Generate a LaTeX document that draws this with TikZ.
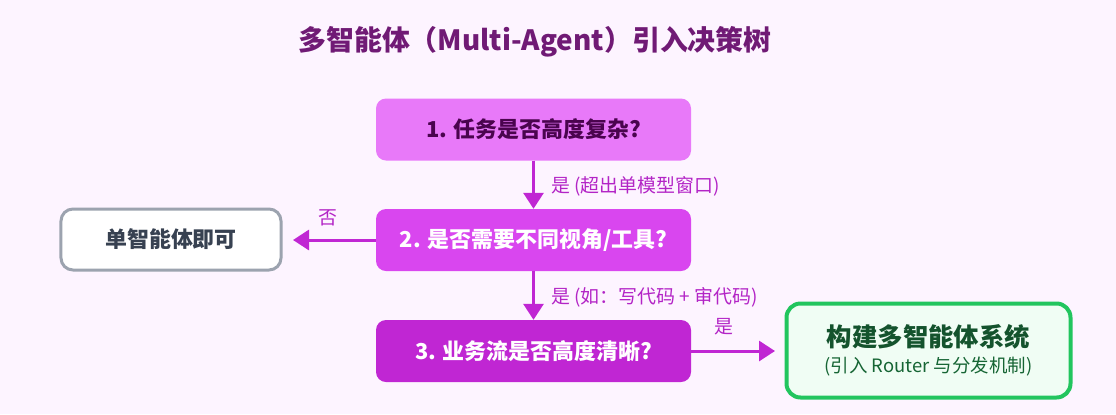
\documentclass[tikz,border=0pt]{standalone}
\usepackage{fontspec}
\setmainfont{Noto Sans CJK SC}
\usetikzlibrary{arrows.meta}
\definecolor{bg}{HTML}{FDF4FF}
\definecolor{titlec}{HTML}{701A75}
\definecolor{q1fill}{HTML}{E879F9}
\definecolor{q2fill}{HTML}{D946EF}
\definecolor{q3fill}{HTML}{C026D3}
\definecolor{q1text}{HTML}{4A044E}
\definecolor{arrowc}{HTML}{C026D3}
\definecolor{labelc}{HTML}{B324C6}
\definecolor{grayb}{HTML}{9CA3AF}
\definecolor{grayt}{HTML}{374151}
\definecolor{greenb}{HTML}{22C55E}
\definecolor{greenf}{HTML}{F0FDF4}
\definecolor{greent}{HTML}{14532D}
\definecolor{greens}{HTML}{166534}
\tikzset{
  qbox/.style={rounded corners=10bp, minimum width=315bp, minimum height=62bp, inner sep=0pt, font=\fontsize{22}{26}\selectfont\bfseries},
  arr/.style={draw=arrowc, line width=3bp, -{Triangle[length=16bp,width=20bp]}},
  lab/.style={text=labelc, font=\fontsize{19}{22}\selectfont, inner sep=0pt}
}
\begin{document}
\begin{tikzpicture}[x=1bp,y=-1bp]
\fill[bg] (0,0) rectangle (1116,414);
\useasboundingbox (0,0) rectangle (1116,414);
\node[text=titlec, font=\fontsize{28}{32}\selectfont\bfseries] (title) at (535,42) {多智能体（Multi-Agent）引入决策树};
\node[qbox, fill=q1fill, text=q1text] (q1) at (533.5,129.5) {1. 任务是否高度复杂?};
\node[qbox, fill=q2fill, text=white] (q2) at (533.5,240) {2. 是否需要不同视角/工具?};
\node[qbox, fill=q3fill, text=white] (q3) at (533.5,351) {3. 业务流是否高度清晰?};
\node[draw=grayb, line width=3bp, fill=white, rounded corners=12bp, minimum width=220bp, minimum height=61bp, inner sep=0pt, text=grayt, font=\fontsize{22}{26}\selectfont\bfseries] (single) at (171,239.5) {单智能体即可};
\node[draw=greenb, line width=4bp, fill=greenf, rounded corners=14bp, minimum width=284bp, minimum height=94bp, inner sep=0pt, align=center] (multi) at (928.5,350.5) {{\color{greent}\fontsize{25.5}{30}\selectfont\bfseries 构建多智能体系统}\\[7bp]{\color{greens}\fontsize{18.5}{22}\selectfont (引入 Router 与分发机制)}};
\coordinate (lt) at (293,240);
\coordinate (rt) at (775,351);
\draw[arr] (q1.south) -- (q2.north);
\draw[arr] (q2.south) -- (q3.north);
\draw[arr] (q2.west) -- (lt);
\draw[arr] (q3.east) -- (rt);
\node[lab, anchor=west] (l1) at (551,186) {是 (超出单模型窗口)};
\node[lab, anchor=west] (l2) at (551,297) {是 (如：写代码 + 审代码)};
\node[lab] (l3) at (328,218) {否};
\node[lab] (l4) at (724,327) {是};
\end{tikzpicture}
\end{document}
